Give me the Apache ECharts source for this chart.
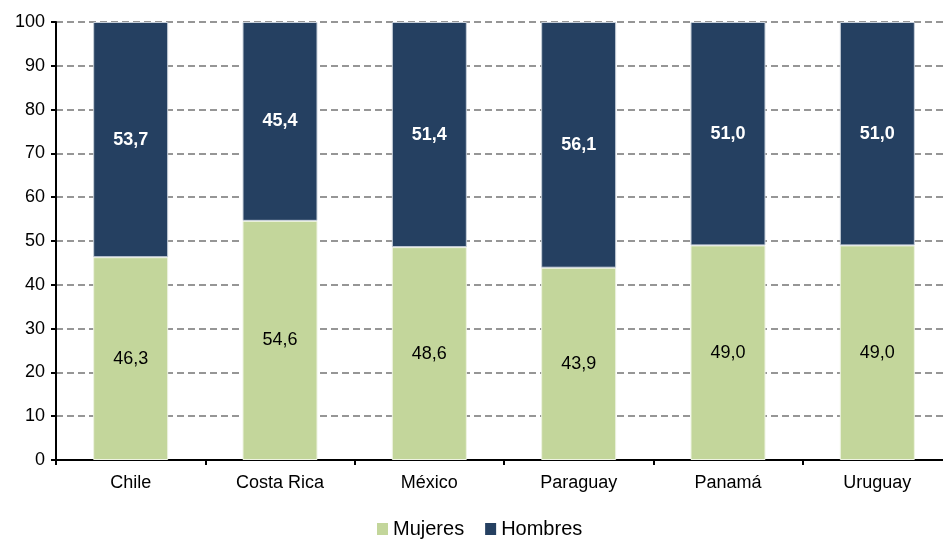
<!DOCTYPE html>
<html><head><meta charset="utf-8">
<script src="https://cdn.jsdelivr.net/npm/echarts@6/dist/echarts.min.js"></script>
<style>html,body{margin:0;padding:0;background:#fff;overflow:hidden}#c{width:952px;height:540px}</style>
</head><body><div id="c"></div>
<script>
const categories = ['Chile','Costa Rica','México','Paraguay','Panamá','Uruguay'];
const mujeres = [46.3, 54.6, 48.6, 43.9, 49.0, 49.0];
const hombres = [53.7, 45.4, 51.4, 56.1, 51.0, 51.0];
const yTicks = [0,10,20,30,40,50,60,70,80,90,100];
const fmt = p => p.value.toFixed(1).replace('.', ',');
const FF = 'Liberation Sans, Arial, sans-serif';
const chart = echarts.init(document.getElementById('c'));
chart.setOption({
  animation:false,
  textStyle:{fontFamily:FF},
  grid:{left:56, top:22, right:0, bottom:80, containLabel:false},
  legend:{top:514, left:372, itemWidth:11, itemHeight:12, itemGap:21,
    icon:'rect', itemStyle:{borderWidth:0},
    textStyle:{fontSize:20, color:'#000', fontFamily:FF},
    data:['Mujeres','Hombres']},
  xAxis:{type:'category', data:categories,
    axisLine:{lineStyle:{color:'#000', width:2}},
    axisTick:{show:true, alignWithLabel:false, length:5, lineStyle:{color:'#000', width:2}},
    axisLabel:{fontSize:18, color:'#000', margin:14}},
  yAxis:{type:'value', min:0, max:100, interval:10,
    axisLine:{show:true, lineStyle:{color:'#000', width:2}},
    axisTick:{show:true, length:5, lineStyle:{color:'#000', width:2}},
    axisLabel:{fontSize:18, color:'#000', margin:11, formatter:v => yTicks.includes(v) ? String(v) : ''},
    splitLine:{show:true, lineStyle:{color:'#969696', type:[7,4], width:2}}},
  series:[
    {name:'Mujeres', type:'bar', stack:'t', data:mujeres, barWidth:75,
     itemStyle:{color:'#C3D69B', borderColor:'#eef3e2', borderWidth:1},
     label:{show:true, position:'inside', formatter:fmt, fontSize:18, color:'#000'}},
    {name:'Hombres', type:'bar', stack:'t', data:hombres, barWidth:75,
     itemStyle:{color:'#254061', borderColor:'#c8d0da', borderWidth:1},
     label:{show:true, position:'inside', formatter:fmt, fontSize:18, color:'#fff', fontWeight:'bold'}}
  ]
});
</script></body></html>
